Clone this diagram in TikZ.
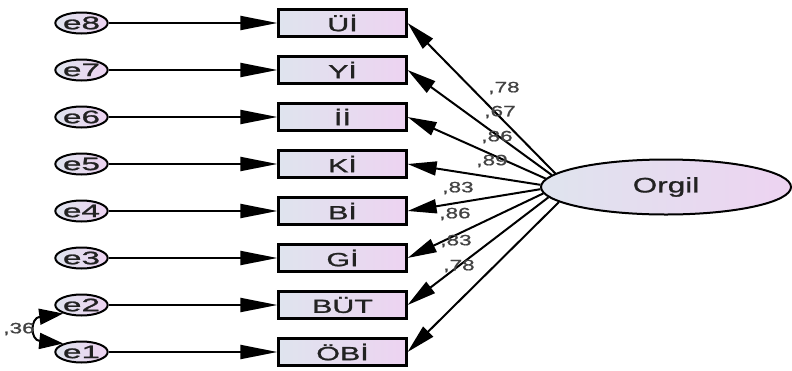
\documentclass[tikz,border=0pt]{standalone}
\usepackage{fontspec}
\setmainfont{Liberation Sans}[FakeStretch=1.6,FakeBold=1.2]
\newfontfamily\efont{Liberation Sans}[FakeStretch=1.85,FakeBold=1.4]
\newfontfamily\ofont{Liberation Sans}[FakeStretch=1.5,FakeBold=1.0]
\usetikzlibrary{arrows.meta,shapes.geometric}
\definecolor{shadeL}{HTML}{DFE4EE}
\definecolor{shadeR}{HTML}{EDD3F1}
\definecolor{txt}{HTML}{222222}
\tikzset{
  errnode/.style={ellipse, draw, line width=2pt, minimum width=47pt, minimum height=21pt, inner sep=0pt,
    left color=shadeL, right color=shadeR, font=\efont\fontsize{18}{18}\selectfont, text=txt},
  obsbox/.style={rectangle, draw, line width=2.2pt, minimum width=128pt, minimum height=27pt, inner sep=0pt,
    left color=shadeL, right color=shadeR, font=\fontsize{19}{19}\selectfont, text=txt},
  latent/.style={ellipse, draw, line width=2pt, minimum width=250pt, minimum height=55pt, inner sep=0pt,
    left color=shadeL, right color=shadeR, font=\ofont\fontsize{21}{21}\selectfont, text=txt},
  harrow/.style={line width=2pt, -{Triangle[length=37pt,width=14pt]}},
  darrow/.style={line width=2pt, -{Triangle[length=29pt,width=14pt]}},
  covarrow/.style={line width=2pt, {Triangle[length=24pt,width=16pt]}-{Triangle[length=24pt,width=16pt]}},
  wlabel/.style={inner sep=0pt, font=\ofont\fontsize{15}{15}\selectfont, text=txt!85}
}
\begin{document}
\begin{tikzpicture}[x=1pt,y=-1pt]
\useasboundingbox (0,0) rectangle (792,370);
\foreach \n/\lab/\yy in {8/Üİ/23, 7/Yİ/70, 6/İİ/117, 5/Kİ/164, 4/Bİ/211, 3/Gİ/258, 2/BÜT/305, 1/ÖBİ/352}{
  \node[errnode] (e\n) at (81.5,\yy) {e\n};
  \node[obsbox] (b\n) at (342.5,\yy) {\lab};
  \draw[harrow] (e\n) -- (b\n);
}
\node[latent] (orgil) at (666,187) {Orgil};
\foreach \n/\ang in {8/173, 7/174.5, 6/176, 5/179, 4/181.5, 3/183.5, 2/185.5, 1/188}{
  \draw[darrow] (orgil.\ang) -- (b\n.east);
}
\node[wlabel] (l8) at (504,88) {,78};
\node[wlabel] (l7) at (500,112) {,67};
\node[wlabel] (l6) at (497,137) {,86};
\node[wlabel] (l5) at (492,161) {,89};
\node[wlabel] (l4) at (458,188) {,83};
\node[wlabel] (l3) at (455,214) {,86};
\node[wlabel] (l2) at (456,241) {,83};
\node[wlabel] (l1) at (459,266) {,78};
\draw[covarrow] (e2.205) .. controls (30,318) and (30,340) .. (e1.155);
\node[wlabel] (c12) at (19,329) {,36};
\end{tikzpicture}
\end{document}
